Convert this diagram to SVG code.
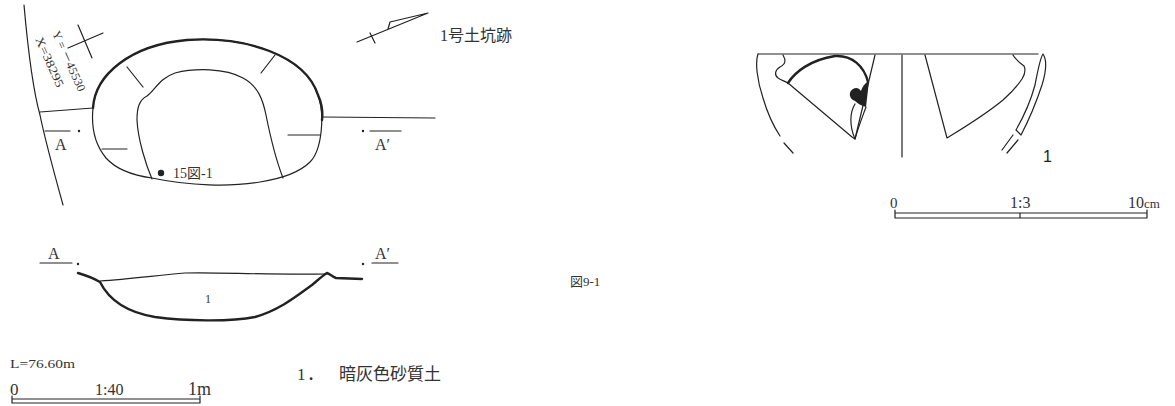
<svg xmlns="http://www.w3.org/2000/svg" width="1175" height="406" viewBox="0 0 1175 406">
<style>
.ln{fill:none;stroke:#222;stroke-width:1.2;stroke-linecap:round;stroke-linejoin:round}
.tk{fill:none;stroke:#222;stroke-width:2.4;stroke-linecap:round;stroke-linejoin:round}
.tx{font-family:"Liberation Serif","Noto Sans CJK JP",serif;fill:#333}
.sa{font-family:"Liberation Sans",Arial,sans-serif;fill:#222}
</style>
<rect width="1175" height="406" fill="#fff"/>
<g id="plan">
  <path class="ln" d="M24,5 C28,50 33,90 40,115 C45,140 52,165 63,205"/>
  <path class="ln" d="M40,112 L93,108"/>
  <path class="ln" d="M322,117 L435,118"/>
  <path class="ln" d="M68,48 L103,33 M78,25 L92,58"/>
  <text class="tx" font-size="12" transform="translate(52,33) rotate(66)" textLength="65" lengthAdjust="spacingAndGlyphs">Y = －45530</text>
  <text class="tx" font-size="12" transform="translate(35,39) rotate(66)" textLength="54" lengthAdjust="spacingAndGlyphs">X=38295</text>
  <path class="ln" d="M93,108 C95,75 130,45 187,40 C245,36 305,55 318,95 C325,115 322,150 310,162 C300,172 285,178 260,182 C230,187 190,186 152,178 C130,175 115,168 106,158 C96,146 91,128 93,108 Z" stroke-width="1.5"/>
  <path class="tk" d="M93,108 C95,75 130,45 187,40 C245,36 305,55 318,95 C322,104 323,112 322,120"/>
  <path class="ln" d="M152,179 C146,165 138,140 137,120 C137,108 139,100 147,96 C155,90 160,78 175,73 C195,68 225,68 243,78 C258,86 263,100 266,115 C270,135 276,160 283,178"/>
  <path class="ln" d="M127,67 L143,87 M275,55 L261,73 M288,135 L320,135 M102,149 L127,149"/>
  <circle cx="161" cy="173" r="3.2" fill="#222"/>
  <text class="tx" x="173" y="178" font-size="14">15図-1</text>
  <path class="ln" d="M45,131 L70,131 M370,131 L401,131"/>
  <circle cx="79" cy="131" r="1.2" fill="#222"/>
  <circle cx="363" cy="131" r="1.2" fill="#222"/>
  <text class="tx" x="55" y="150" font-size="16">A</text>
  <text class="tx" x="375" y="150" font-size="16">A′</text>
</g>
<g id="north">
  <path class="ln" d="M357,42 L428,13 M388,29 L390,22 L428,13 M370,33 L375,43"/>
  <text class="tx" x="440" y="41" font-size="16">1号土坑跡</text>
</g>
<g id="section">
  <path class="ln" d="M40,263 L72,263 M372,263 L398,263"/>
  <circle cx="78" cy="264" r="1.2" fill="#222"/>
  <circle cx="363" cy="264" r="1.2" fill="#222"/>
  <text class="tx" x="48" y="259" font-size="16">A</text>
  <text class="tx" x="375" y="259" font-size="16">A′</text>
  <path class="tk" stroke-width="2" d="M78,273 C88,276 95,279 100,282 C108,298 125,312 155,317 C185,321 230,322 255,317 C280,310 298,295 312,285 C318,280 322,276 327,273 C330,274 333,277 336,278 L362,279"/>
  <path class="ln" d="M100,281 C130,279 160,275 185,273 C220,272 260,275 327,274"/>
  <text class="tx" x="208" y="303" font-size="12" text-anchor="middle">1</text>
</g>
<g id="legend">
  <text class="tx" x="10" y="368" font-size="12" textLength="65" lengthAdjust="spacingAndGlyphs">L=76.60m</text>
  <text class="tx" x="10" y="395" font-size="17">0</text>
  <text class="tx" x="95" y="395" font-size="16">1:40</text>
  <text class="tx" x="188" y="395" font-size="18">1m</text>
  <path class="ln" d="M12,399 L200,399 M12,403 L200,403 M12,396 L12,403 M200,396 L200,403"/>
  <text class="tx" x="297" y="380" font-size="17">1<tspan x="307">．</tspan><tspan x="339">暗灰色砂質土</tspan></text>
  <text class="tx" x="570" y="286" font-size="13">図9-1</text>
</g>
<g id="pottery">
  <path class="ln" d="M758,54 L1038,54"/>
  <path class="ln" d="M758,54 C755,62 757,80 763,98 C768,115 774,127 780,136 M784,143 L793,153"/>
  <path class="ln" d="M902,55 L902,157"/>
  <path class="ln" d="M783,55 C786,60 786,64 780,67 C775,70 774,75 778,78 C781,80 784,81 788,83 L852,137 L855,139 L875,55"/>
  <path class="tk" stroke-width="2" d="M788,83 C795,72 810,60 835,56 C852,55 864,66 868,82"/>
  <path fill="#222" d="M869,81 L866,107 C862,106 858,104 855,101 C849,99 848,92 853,89 C856,87 859,88 861,91 C862,87 865,83 869,81 Z"/>
  <path class="ln" d="M855,104 C850,112 849,125 855,139 M866,107 C862,118 858,128 855,139"/>
  <path class="ln" d="M925,55 L947,138 C960,130 985,115 1003,100 C1012,92 1018,85 1022,79 C1025,74 1026,70 1024,66 C1020,63 1015,59 1013,55"/>
  <path class="ln" d="M1043,54 C1047,60 1046,72 1042,85 C1037,100 1030,118 1021,135 L1016,130 C1024,116 1031,100 1035,85 C1038,70 1040,58 1043,54 Z"/>
  <path class="ln" d="M1013,135 L1002,150 M1018,140 L1007,153"/>
  <text class="sa" x="1043" y="162" font-size="16">1</text>
</g>
<g id="scale-right">
  <path class="ln" d="M895,213 L1147,213 M895,218 L1147,218 M895,210 L895,218 M1147,210 L1147,218 M1020,213 L1020,218"/>
  <text class="tx" x="890" y="208" font-size="15">0</text>
  <text class="tx" x="1010" y="208" font-size="16">1:3</text>
  <text class="tx" x="1128" y="208" font-size="16">10<tspan font-size="13">cm</tspan></text>
</g>
</svg>
